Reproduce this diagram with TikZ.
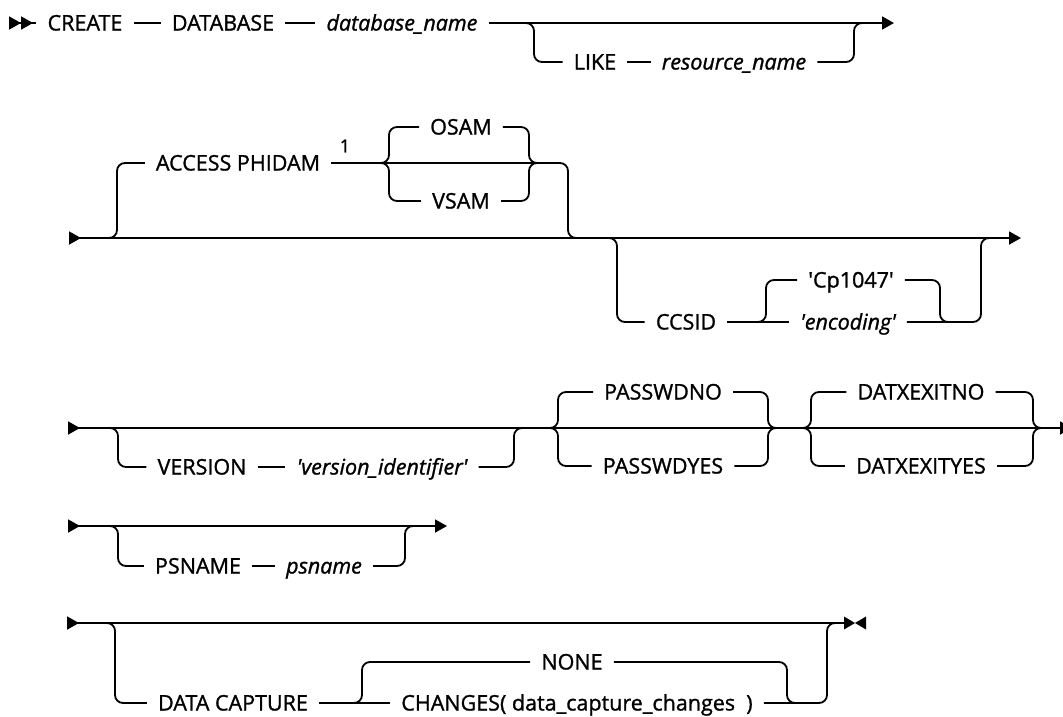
\documentclass[tikz,border=0pt]{standalone}
\usepackage{fontspec}
\setmainfont{Open Sans}[FakeBold=1.2]
\usetikzlibrary{
  calc,
  positioning,
  arrows.meta
}

\newcommand{\kwfont}{\fontsize{21.5}{25}\selectfont}
\newcommand{\sq}{\textquotesingle}

\begin{document}
\begin{tikzpicture}[x=1pt, y=-1pt]
  \tikzset{
    rail/.style={line width=1.8pt, rounded corners=8pt},
    kw/.style={font=\kwfont, text height=15pt, text depth=0pt,
      inner ysep=0pt, inner xsep=11pt},
    var/.style={kw, font=\kwfont\itshape},
    note/.style={font=\fontsize{18}{20}\selectfont, inner sep=0pt},
    rowin/.style={ {Triangle[reversed,length=12pt,width=13pt]}- },
    rowout/.style={ -{Triangle[length=12pt,width=13pt]} },
    rowthru/.style={ {Triangle[reversed,length=12pt,width=13pt]}-{Triangle[length=12pt,width=13pt]} },
    rowfirst/.style={ {Triangle[reversed,length=12pt,width=13pt] Triangle[reversed,length=12pt,width=13pt]}- },
  }
  \useasboundingbox (0,0) rectangle (1063,716);

  % CREATE DATABASE
  \coordinate (s1) at (9,23);
  \coordinate (e1) at (894,23);
  \node[kw] (create) at (85,23) {CREATE};
  \node[kw] (database) at (223,23) {DATABASE};
  \node[var] (dbname) at (402,23) {database\_name};
  \node[kw] (like) at (595,62) {LIKE};
  \node[var] (resname) at (734,62) {resource\_name};
  \draw[rail, rowfirst] (s1) -- (create);
  \draw[rail] (create) -- (database);
  \draw[rail] (database) -- (dbname);
  \draw[rail, rowout] (dbname) -- (e1);
  \draw[rail] (522,23) -- (534,23) -- (534,62) -- (like.west);
  \draw[rail] (like) -- (resname);
  \draw[rail] (resname.east) -- (854,62) -- (854,23) -- (866,23);

  % ACCESS / CCSID
  \coordinate (s2) at (69,238);
  \coordinate (e2) at (1021,238);
  \draw[rail, rowthru] (s2) -- (e2);
  \node[kw] (access) at (238,163) {ACCESS PHIDAM};
  \node[note] (fn) at (345,146) {1};
  \node[kw] (osam) at (461,127) {OSAM};
  \node[kw] (vsam) at (461,201) {VSAM};
  \draw[rail] (105,238) -- (117,238) -- (117,163) -- (access.west);
  \draw[rail] (access) -- (568,163) -- (568,238) -- (580,238);
  \draw[rail] (377,163) -- (389,163) -- (389,127) -- (osam.west);
  \draw[rail] (osam.east) -- (529,127) -- (529,163) -- (541,163);
  \draw[rail] (377,163) -- (389,163) -- (389,201) -- (vsam.west);
  \draw[rail] (vsam.east) -- (529,201) -- (529,163) -- (541,163);

  \node[kw] (ccsid) at (686,322) {CCSID};
  \node[kw] (cp) at (851,280) {\sq Cp1047\sq};
  \node[var] (enc) at (848,322) {\sq encoding\sq};
  \draw[rail] (605,238) -- (617,238) -- (617,322) -- (ccsid.west);
  \draw[rail] (ccsid) -- (enc);
  \draw[rail] (enc.east) -- (981,322) -- (981,238) -- (993,238);
  \draw[rail] (754,322) -- (766,322) -- (766,280) -- (cp.west);
  \draw[rail] (cp.east) -- (940,280) -- (940,322) -- (952,322);

  % VERSION / PASSWD / DATXEXIT
  \coordinate (s3) at (68,428);
  \coordinate (e3) at (1072,428);
  \draw[rail, rowthru] (s3) -- (e3);
  \node[kw] (version) at (202,467) {VERSION};
  \node[var] (verid) at (382,467) {\sq version\_identifier\sq};
  \draw[rail] (106,428) -- (118,428) -- (118,467) -- (version.west);
  \draw[rail] (version) -- (verid);
  \draw[rail] (verid.east) -- (514,467) -- (514,428) -- (526,428);

  \node[kw] (pwno) at (663,392) {PASSWDNO};
  \node[kw] (pwyes) at (663,466) {PASSWDYES};
  \draw[rail] (546,428) -- (558,428) -- (558,392) -- (pwno.west);
  \draw[rail] (pwno.east) -- (768,392) -- (768,428) -- (780,428);
  \draw[rail] (546,428) -- (558,428) -- (558,466) -- (pwyes.west);
  \draw[rail] (pwyes.east) -- (768,466) -- (768,428) -- (780,428);

  \node[kw] (dxno) at (921,392) {DATXEXITNO};
  \node[kw] (dxyes) at (921,466) {DATXEXITYES};
  \draw[rail] (799,428) -- (811,428) -- (811,392) -- (dxno.west);
  \draw[rail] (dxno.east) -- (1033,392) -- (1033,428) -- (1045,428);
  \draw[rail] (799,428) -- (811,428) -- (811,466) -- (dxyes.west);
  \draw[rail] (dxyes.east) -- (1033,466) -- (1033,428) -- (1045,428);

  % PSNAME
  \coordinate (s4) at (68,526);
  \coordinate (e4) at (447,526);
  \draw[rail, rowthru] (s4) -- (e4);
  \node[kw] (psname) at (198,566) {PSNAME};
  \node[var] (psvar) at (324,566) {psname};
  \draw[rail] (106,526) -- (118,526) -- (118,566) -- (psname.west);
  \draw[rail] (psname) -- (psvar);
  \draw[rail] (psvar.east) -- (405,566) -- (405,526) -- (417,526);

  % DATA CAPTURE
  \coordinate (s5) at (67,623);
  \coordinate (e5) at (844,623);
  \draw[rail, rowin] (s5) -- (e5);
  \fill (e5) ++(0,-6.5) -- ++(11,6.5) -- ++(-11,6.5) -- cycle;
  \fill (e5) ++(22,-6.5) -- ++(-11,6.5) -- ++(11,6.5) -- cycle;
  \node[kw] (dcap) at (233,703) {DATA CAPTURE};
  \node[kw] (none) at (572,662) {NONE};
  \node[kw] (changes) at (577,703) {CHANGES( data\_capture\_changes~~)};
  \draw[rail] (103,623) -- (115,623) -- (115,703) -- (dcap.west);
  \draw[rail] (dcap) -- (changes);
  \draw[rail] (changes.east) -- (827,703) -- (827,623) -- (839,623);
  \draw[rail] (350,703) -- (362,703) -- (362,662) -- (none.west);
  \draw[rail] (none.east) -- (787,662) -- (787,703) -- (799,703);

\end{tikzpicture}
\end{document}
